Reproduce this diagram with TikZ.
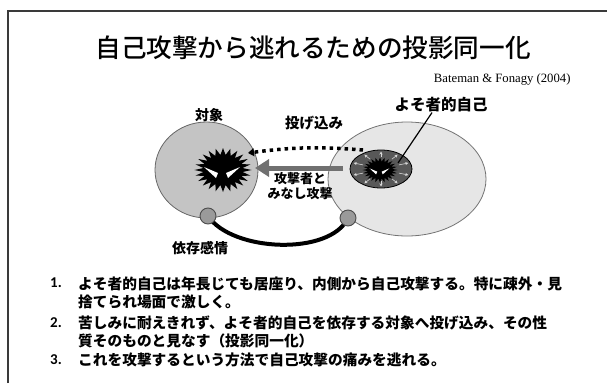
\documentclass[tikz,border=0pt]{standalone}
\usepackage{fontspec}
\usepackage{tikz}
\usetikzlibrary{arrows.meta,positioning,shapes.geometric,calc,backgrounds}
\setmainfont{Liberation Serif}
\newfontfamily\jp{Noto Sans CJK JP}
\newfontfamily\jpmed{Noto Sans CJK JP Medium}
\newfontfamily\numfont{Carlito}
\definecolor{objfill}{HTML}{C4C4C4}
\definecolor{selffill}{HTML}{E6E6E6}
\definecolor{alienfill}{HTML}{585858}
\definecolor{framecol}{HTML}{3A3A3A}
\definecolor{throwcol}{HTML}{707070}
\definecolor{tiefill}{HTML}{9A9A9A}

\begin{document}
\begin{tikzpicture}[
  x=1pt, y=-1pt,
  lab/.style={font=\jp\bfseries\fontsize{14}{16}\selectfont, inner sep=0pt},
  item/.style={font=\jp\bfseries\fontsize{14.7}{18}\selectfont, anchor=west, align=left, inner sep=0pt},
  num/.style={font=\numfont\bfseries\fontsize{15}{18}\selectfont, anchor=west, inner sep=0pt},
  blob/.style={ellipse, inner sep=0pt, line width=0.8pt},
  threat/.style={star, star points=24, star point ratio=1.45, fill=black, inner sep=0pt, transform shape},
  tie/.style={circle, draw=black!70, fill=tiefill, line width=0.9pt, minimum size=16pt, inner sep=0pt},
]
  \useasboundingbox (0,0) rectangle (607,383);

  % slide frame
  \draw[framecol, line width=1.6pt] (8,383) -- (8,11) -- (607,11);

  % Title and source
  \node[font=\jpmed\fontsize{25.6}{28}\selectfont] (title) at (313,48) {自己攻撃から逃れるための投影同一化};
  \node[font=\fontsize{12.7}{14}\selectfont, anchor=east] (source) at (574,79) {Bateman \& Fonagy (2004)};

  % Object and self
  \node[blob, draw=black!60, fill=objfill, minimum width=103pt, minimum height=96pt] (obj) at (206.5,170) {};
  \node[blob, draw=black!55, fill=selffill, minimum width=158pt, minimum height=114pt] (self) at (407,179) {};
  \node[blob, draw=black, fill=alienfill, minimum width=62pt, minimum height=38pt] (alien) at (381,169) {};

  % Attackers
  \node[threat, minimum size=44pt, xscale=1.3] (objthreat) at (223,170) {};
  \node[threat, minimum size=25pt, xscale=1.4] (alienthreat) at (380,170) {};
  \begin{scope}[shift={(223,170)}]
    \fill[white] (-19,-3) -- (-5,3) -- (-7,8) -- cycle;
    \fill[white] (17,-3) -- (3,3) -- (5,8) -- cycle;
  \end{scope}
  \begin{scope}[shift={(380,170)}, scale=0.55]
    \fill[white] (-19,-3) -- (-5,3) -- (-7,8) -- cycle;
    \fill[white] (17,-3) -- (3,3) -- (5,8) -- cycle;
  \end{scope}
  \foreach \a in {20,55,90,125,160,200,235,270,305,340}
    \draw[white!85!black, line width=0.6pt, -{Stealth[length=3pt,width=3pt]}]
      ($(alien.center)+({19*cos(\a)},{12*sin(\a)})$) -- ($(alien.center)+({29*cos(\a)},{17.5*sin(\a)})$);

  % Projection
  \coordinate (throwfoot) at (343,168);
  \coordinate (throwtip) at (255,168);
  \coordinate (dotfrom) at (363,150);
  \coordinate (dotto) at (248,153);
  \draw[throwcol, line width=5pt, -{Triangle[length=14pt,width=17pt]}] (throwfoot) -- (throwtip);
  \draw[black, line width=3.5pt, dash pattern=on 3.5pt off 4pt, -{Triangle[length=6pt,width=8pt]}]
    (dotfrom) to[bend right=6] (dotto);

  % Dependence
  \node[tie] (objtie) at (208,216) {};
  \node[tie] (selftie) at (348,218) {};
  \begin{scope}[on background layer]
    \draw[line width=4pt] (objtie.center) .. controls (232,252) and (330,256) .. (selftie.center);
  \end{scope}

  % Labels
  \node[lab] (objlbl) at (209,115) {対象};
  \node[lab, font=\jp\bfseries\fontsize{14.5}{16}\selectfont] (throwlbl) at (314,123) {投げ込み};
  \node[lab, font=\jp\bfseries\fontsize{15.5}{17}\selectfont] (alienlbl) at (441,105) {よそ者的自己};
  \coordinate (alientip) at (398,163);
  \draw[line width=1.2pt] ($(alienlbl.south)+(-9,0)$) -- (alientip);
  \node[lab, font=\jp\bfseries\fontsize{13}{15}\selectfont, align=center] (attacklbl) at (300,186) {攻撃者と\\みなし攻撃};
  \node[lab] (tielbl) at (200,248) {依存感情};

  % List
  \node[num] (num1) at (50,283) {1.};
  \node[item] (item1) at (78,292.5) {よそ者的自己は年長じても居座り、内側から自己攻撃する。特に疎外・見\\捨てられ場面で激しく。};
  \node[num] (num2) at (50,323) {2.};
  \node[item] (item2) at (78,332) {苦しみに耐えきれず、よそ者的自己を依存する対象へ投げ込み、その性\\質そのものと見なす（投影同一化）};
  \node[num] (num3) at (50,359.5) {3.};
  \node[item] (item3) at (78,359.5) {これを攻撃するという方法で自己攻撃の痛みを逃れる。};
\end{tikzpicture}
\end{document}
